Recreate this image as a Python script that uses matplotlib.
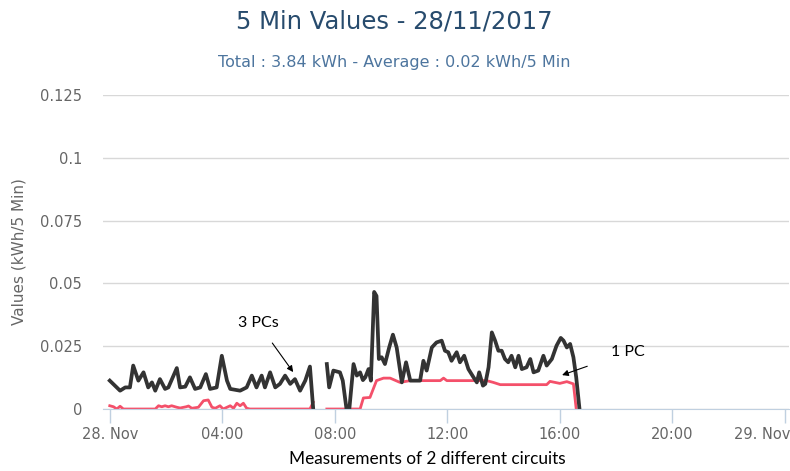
import matplotlib.pyplot as plt
import matplotlib.transforms as mtransforms
import numpy as np

# minutes after midnight, values in kWh per 5 min (nan = no data)
pcs3_min = [0, 22, 33, 43, 50, 61, 72, 82, 90, 97, 107, 118, 125, 143, 150, 161, 171, 182,
            193, 205, 214, 228, 239, 250, 257, 278, 292, 303, 313, 324, 331, 342, 353, 363,
            374, 385, 395, 406, 417, 427, 434, 448,
            463, 468, 477, 491, 497, 505, 511, 520, 527, 534, 540, 545, 552, 557, 564, 569,
            574, 580, 587, 596, 604, 612, 623, 632, 641, 651, 662, 669, 676, 687, 697, 708,
            715, 722, 729, 740, 747, 756, 765, 776, 783, 788, 796, 801, 808, 815, 822, 829,
            836, 843, 850, 857, 865, 872, 879, 889, 897, 904, 914, 925, 932, 943, 953, 962,
            968, 975, 982, 989, 995, 1002]
pcs3_val = [0.0113, 0.0073, 0.0086, 0.0086, 0.0173, 0.0113, 0.0146, 0.0086, 0.0106, 0.0073,
            0.0119, 0.0080, 0.0086, 0.0163, 0.0086, 0.0089, 0.0126, 0.0080, 0.0086, 0.0139,
            0.0080, 0.0086, 0.0212, 0.0113, 0.0080, 0.0073, 0.0086, 0.0133, 0.0086, 0.0133,
            0.0086, 0.0146, 0.0086, 0.0100, 0.0133, 0.0100, 0.0119, 0.0073, 0.0113, 0.0169,
            0.0, np.nan,
            0.0179, 0.0086, 0.0153, 0.0146, 0.0113, 0.0, 0.0, 0.0179, 0.0133, 0.0146, 0.0115,
            0.0126, 0.0159, 0.0113, 0.0466, 0.0450, 0.0199, 0.0206, 0.0179, 0.0245, 0.0296,
            0.0245, 0.0106, 0.0186, 0.0113, 0.0113, 0.0113, 0.0192, 0.0153, 0.0245, 0.0265,
            0.0272, 0.0232, 0.0226, 0.0192, 0.0226, 0.0186, 0.0212, 0.0159, 0.0126, 0.0106,
            0.0146, 0.0093, 0.0100, 0.0166, 0.0305, 0.0272, 0.0232, 0.0232, 0.0199, 0.0186,
            0.0212, 0.0166, 0.0212, 0.0159, 0.0166, 0.0199, 0.0146, 0.0153, 0.0212, 0.0173,
            0.0199, 0.0252, 0.0283, 0.0272, 0.0245, 0.0259, 0.0206, 0.0126, 0.0]

pc1_min = [0, 8, 15, 22, 29, 97, 104, 111, 118, 125, 132, 143, 150, 163, 168, 175, 189, 200,
           210, 218, 225, 235, 242, 257, 264, 271, 278, 285, 292, 299, 427, 434, 448,
           463, 534, 541, 555, 569, 584, 598, 619, 641, 705, 712, 719, 804, 818, 833, 932,
           939, 960, 975, 989, 995]
pc1_val = [0.0013, 0.0009, 0.0, 0.0011, 0.0, 0.0, 0.0013, 0.0009, 0.0013, 0.0009, 0.0013,
           0.0007, 0.0004, 0.0009, 0.0012, 0.0003, 0.0007, 0.0033, 0.0036, 0.0007, 0.0003,
           0.0013, 0.0, 0.0013, 0.0003, 0.0023, 0.0013, 0.0023, 0.0003, 0.0, 0.0, 0.0027,
           np.nan,
           0.0, 0.0, 0.0044, 0.0046, 0.0113, 0.0123, 0.0123, 0.0106, 0.0113, 0.0113, 0.0123,
           0.0113, 0.0113, 0.0106, 0.0097, 0.0097, 0.0110, 0.0102, 0.0109, 0.0100, 0.0]

tick_hours = [0, 4, 8, 12, 16, 20, 24]
tick_labels = ["28. Nov", "04:00", "08:00", "12:00", "16:00", "20:00", "29. Nov"]
y_ticks = [0, 0.025, 0.05, 0.075, 0.1, 0.125]
y_labels = ["0", "0.025", "0.05", "0.075", "0.1", "0.125"]

fig = plt.figure(figsize=(7.9, 4.71), dpi=100)
ax = fig.add_axes([0.1304, 0.1316, 0.8684, 0.6667])

ax.plot(np.array(pc1_min) / 60, pc1_val, color="#f4506a", lw=2.0, solid_joinstyle="round")
ax.plot(np.array(pcs3_min) / 60, pcs3_val, color="#333333", lw=2.7, solid_joinstyle="round")

ax.set_xlim(-0.24, 24.15)
ax.set_ylim(0, 0.125)
ax.set_xticks(tick_hours)
ax.set_xticklabels(tick_labels)
ax.set_yticks(y_ticks)
ax.set_yticklabels(y_labels)
ax.grid(axis="y", color="#d8d8d8", lw=1)
ax.set_axisbelow(True)
for s in ["top", "right", "left"]:
    ax.spines[s].set_visible(False)
ax.spines["bottom"].set_color("#c0d0e0")
ax.tick_params(axis="x", colors="#c0d0e0", length=10, width=1, labelcolor="#666666",
               labelsize=10.5, pad=3)
ax.tick_params(axis="y", length=0, labelcolor="#666666", labelsize=10.5, pad=15)
ax.set_ylabel("Values (kWh/5 Min)", color="#666666", fontsize=11, labelpad=10)

# last label sits left of its tick, as in the original
last = ax.get_xticklabels()[-1]
last.set_ha("right")
last.set_transform(last.get_transform() + mtransforms.ScaledTranslation(6 / 100, 0, fig.dpi_scale_trans))

fig.text(0.4987, 0.955, "5 Min Values - 28/11/2017", ha="center", va="center",
         fontsize=17.5, color="#274b6d")
fig.text(0.4987, 0.868, "Total : 3.84 kWh - Average : 0.02 kWh/5 Min", ha="center",
         va="center", fontsize=11.5, color="#4d759e")
fig.text(0.541, 0.025, "Measurements of 2 different circuits", ha="center", va="center",
         fontsize=12.4, family="Lato", color="black")

ax.annotate("3 PCs", xy=(6.52, 0.0147), xytext=(5.27, 0.0342), ha="center", va="center",
            fontsize=11.5, family="Lato",
            arrowprops=dict(arrowstyle="-|>", color="black", lw=0.8, shrinkA=9, shrinkB=0,
                            mutation_scale=9))
ax.annotate("1 PC", xy=(16.08, 0.0135), xytext=(18.42, 0.0227), ha="center", va="center",
            fontsize=11.5, family="Lato",
            arrowprops=dict(arrowstyle="-|>", color="black", lw=0.8, shrinkA=16, shrinkB=0,
                            mutation_scale=9))

fig.savefig("out.png", dpi=100)
